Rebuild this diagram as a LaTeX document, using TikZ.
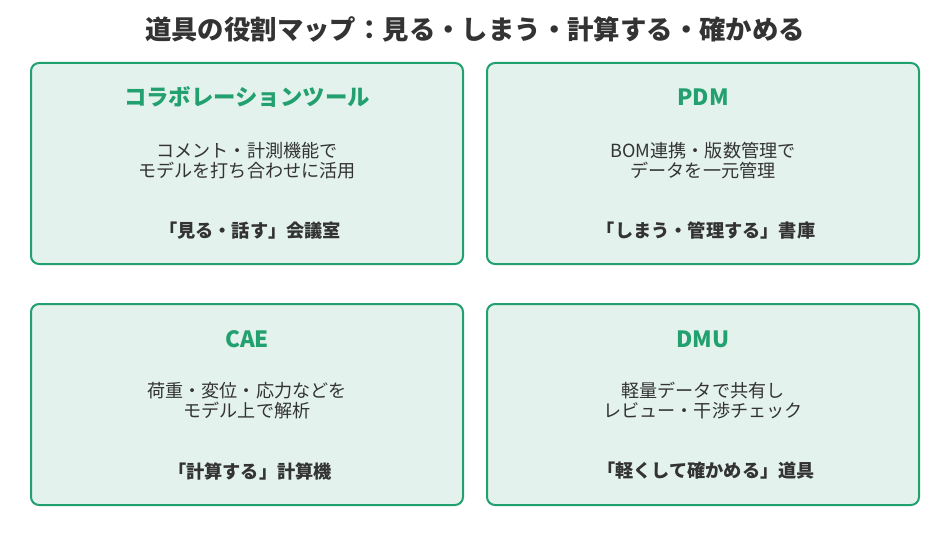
\documentclass[tikz,border=0pt]{standalone}
\usepackage{fontspec}
\setmainfont{Noto Sans CJK JP}
\definecolor{boxgreen}{HTML}{22A06F}
\definecolor{boxfill}{HTML}{E3F2EC}
\definecolor{darktext}{HTML}{333333}
\tikzset{
  card/.style={draw=boxgreen, line width=2pt, fill=boxfill, rounded corners=8pt},
  cardtitle/.style={text=boxgreen, font=\fontsize{22.4}{25}\selectfont\bfseries, anchor=center, inner sep=0pt},
  carddesc/.style={text=darktext, font=\fontsize{18.1}{20}\selectfont, align=center, anchor=center, inner sep=0pt},
  cardrole/.style={text=darktext, font=\fontsize{18.2}{20}\selectfont\bfseries, anchor=center, inner sep=0pt},
  maintitle/.style={text=darktext, font=\fontsize{26.4}{29}\selectfont\bfseries, anchor=center, inner sep=0pt}
}
\begin{document}
\begin{tikzpicture}[x=1pt,y=-1pt]
\useasboundingbox (0,0) rectangle (950,543);
\fill[white] (0,0) rectangle (950,543);
\node[maintitle] (title) at (475,29) {道具の役割マップ：見る・しまう・計算する・確かめる};
% boxes
\draw[card] (31,63) rectangle (463,264);
\draw[card] (487,63) rectangle (919,264);
\draw[card] (31,304) rectangle (463,505);
\draw[card] (487,304) rectangle (919,505);
% box 1
\node[cardtitle] (t1) at (247,97) {コラボレーションツール};
\node[carddesc] (d1) at (247,161) {コメント・計測機能で\\モデルを打ち合わせに活用};
\node[cardrole] (r1) at (250,231) {「見る・話す」会議室};
% box 2
\node[cardtitle] (t2) at (703,97) {PDM};
\node[carddesc] (d2) at (703,161) {BOM連携・版数管理で\\データを一元管理};
\node[cardrole] (r2) at (706,231) {「しまう・管理する」書庫};
% box 3
\node[cardtitle] (t3) at (247,339) {CAE};
\node[carddesc] (d3) at (247,401) {荷重・変位・応力などを\\モデル上で解析};
\node[cardrole] (r3) at (250,471) {「計算する」計算機};
% box 4
\node[cardtitle] (t4) at (703,339) {DMU};
\node[carddesc] (d4) at (703,401) {軽量データで共有し\\レビュー・干渉チェック};
\node[cardrole] (r4) at (706,471) {「軽くして確かめる」道具};
\end{tikzpicture}
\end{document}
